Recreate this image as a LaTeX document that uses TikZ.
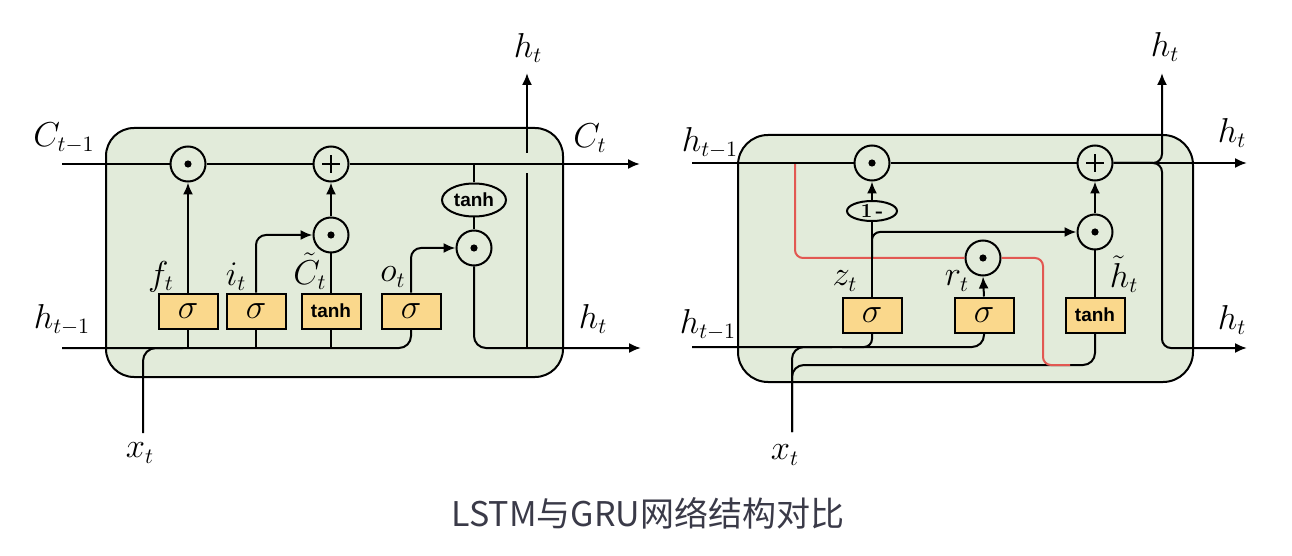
\documentclass[tikz,border=0pt]{standalone}
\usepackage{amsmath}
\usepackage{fontspec}
\newfontfamily\cjk{Noto Sans CJK SC}
\newfontfamily\gatefont{Liberation Sans}
\usetikzlibrary{calc}
\usetikzlibrary{arrows.meta}
\usetikzlibrary{shapes.geometric}
\definecolor{cellgreen}{RGB}{226,235,218}
\definecolor{gateorange}{RGB}{250,216,140}
\definecolor{pathred}{RGB}{226,88,82}
\definecolor{titlegray}{RGB}{58,58,72}

\begin{document}
\begin{tikzpicture}[x=0.5pt,y=-0.5pt,line width=1pt,
  op/.style={circle,draw,fill=cellgreen,minimum size=17.5pt,inner sep=0pt},
  mulop/.style={op,path picture={\fill[black] (path picture bounding box.center) circle (1.8pt);}},
  addop/.style={op,path picture={\draw ($(path picture bounding box.center)+(-4.5pt,0)$) -- ++(9pt,0)
      ($(path picture bounding box.center)+(0,-4.5pt)$) -- ++(0,9pt);}},
  gate/.style={draw,fill=gateorange,minimum width=29.5pt,minimum height=17.5pt,inner sep=0pt,
      font=\fontsize{19}{19}\selectfont},
  tanhtext/.style={font=\gatefont\bfseries\fontsize{9.5}{9.5}\selectfont},
  act/.style={ellipse,draw,fill=cellgreen,inner sep=0pt},
  lab/.style={inner sep=0pt,font=\fontsize{16}{16}\selectfont},
  ar/.style={-{Latex[length=6pt,width=5pt]}}]
\useasboundingbox (0,0) rectangle (1292,556);

% LSTM
\draw[fill=cellgreen,rounded corners=14pt] (106,128) rectangle (563,377);
\coordinate (cin) at (62,164);
\coordinate (cout) at (640,164);
\coordinate (hin) at (62,348);
\coordinate (hout) at (641,348);
\coordinate (xt) at (143,433);
\coordinate (hup) at (527,73);
\node[mulop] (fm) at (188,164) {};
\node[addop] (ca) at (331,164) {};
\node[mulop] (im) at (331,235) {};
\node[mulop] (om) at (474,248) {};
\node[act,tanhtext,minimum width=32pt,minimum height=16.5pt] (th) at (474,200) {tanh};
\node[gate] (sf) at (188,311) {$\sigma$};
\node[gate] (si) at (256,311) {$\sigma$};
\node[gate,tanhtext] (st) at (331,311) {tanh};
\node[gate] (so) at (411,311) {$\sigma$};
\node[lab] (lc1) at (64,138) {$C_{t-1}$};
\node[lab] (lc2) at (590,138) {$C_t$};
\node[lab] (lh1) at (62,320) {$h_{t-1}$};
\node[lab] (lh2) at (593,319) {$h_t$};
\node[lab] (lh3) at (528,48) {$h_t$};
\node[lab] (lx) at (140,453) {$x_t$};
\node[lab] (lf) at (161,277) {$f_t$};
\node[lab] (li) at (236,277) {$i_t$};
\node[lab] (lct) at (310,271) {$\tilde{C}_t$};
\node[lab] (lo) at (393,277) {$o_t$};

\draw (cin) -- (fm.west);
\draw (fm.east) -- (ca.west);
\draw[ar] (ca.east) -- (cout);
\draw (th.north |- cin) -- (th.north);
\draw (th.south) -- (om.north);
\draw[rounded corners=6pt] (hin) -- (so.south |- hin) -- (so.south);
\draw (sf.south) -- (sf.south |- hin);
\draw (si.south) -- (si.south |- hin);
\draw (st.south) -- (st.south |- hin);
\draw[rounded corners=6.5pt] (xt) -- (xt |- hin) -- ($(xt |- hin)+(20pt,0)$);
\draw[ar] (sf.north) -- (fm.south);
\draw[ar,rounded corners=5pt] (si.north) -- (si.north |- im) -- (im.west);
\draw (st.north) -- (im.south);
\draw[ar] (im.north) -- (ca.south);
\draw[ar,rounded corners=5pt] (so.north) -- (so.north |- om) -- (om.west);
\draw[ar,rounded corners=6pt] (om.south) -- (om.south |- hin) -- (hout);
\draw (hup |- hin) -- ($(hup |- cin)+(0,9)$);
\draw[ar] ($(hup |- cin)+(0,-11)$) -- (hup);

% GRU
\draw[fill=cellgreen,rounded corners=15pt] (738,135) rectangle (1193,382);
\coordinate (gin) at (692,163);
\coordinate (gout) at (1247,163);
\coordinate (gbin) at (692,347);
\coordinate (gbout) at (1247,348);
\coordinate (gxt) at (792,432);
\coordinate (gtl) at (792,365);
\coordinate (gup) at (1162,73);
\coordinate (gred) at (795,163);
\coordinate (rk) at (1043,258);
\coordinate (rend) at (1070,365);
\node[mulop] (zm) at (872,163) {};
\node[addop] (ga) at (1095,163) {};
\node[act,minimum width=25pt,minimum height=10pt,font=\fontsize{10}{10}\selectfont] (one) at (872,211) {\textbf{1\,-}};
\node[mulop] (cm) at (1095,232) {};
\node[mulop] (rm) at (983,258) {};
\node[gate] (sz) at (872,315) {$\sigma$};
\node[gate] (sr) at (984,315) {$\sigma$};
\node[gate,tanhtext] (sh) at (1095,315) {tanh};
\node[lab] (gh1) at (710,143) {$h_{t-1}$};
\node[lab] (gh2) at (708,325) {$h_{t-1}$};
\node[lab] (gh3) at (1232,133) {$h_t$};
\node[lab] (gh4) at (1232,320) {$h_t$};
\node[lab] (gh5) at (1165,47) {$h_t$};
\node[lab] (gx) at (785,455) {$x_t$};
\node[lab] (lz) at (845,281) {$z_t$};
\node[lab] (lr) at (957,281) {$r_t$};
\node[lab] (lht) at (1124,274) {$\tilde{h}_t$};

\draw[rounded corners=6pt] (gxt) -- (gxt |- gtl) -- (sh.south |- gtl) -- (sh.south);
\draw[pathred,rounded corners=4pt] (gred) -- (gred |- rm) -- (rm.west);
\draw[pathred,rounded corners=4pt] (rm.east) -- (rk) -- (rk |- gtl) -- (rend);
\draw (gin) -- (zm.west);
\draw (zm.east) -- (ga.west);
\draw[ar] (ga.east) -- (gout);
\draw[ar,rounded corners=4.5pt] (ga.east) -- (gup |- gin) -- (gup);
\draw[ar,rounded corners=4.5pt] (ga.east) -- (gup |- gin) -- (gup |- gbout) -- (gbout);
\draw[rounded corners=6pt] (gbin) -- (sr.south |- gbin) -- (sr.south);
\draw[rounded corners=4pt] (sz.south) -- (sz.south |- gbin) -- ($(sz.south |- gbin)+(-15pt,0)$);
\draw[rounded corners=6pt] (gxt) -- (gxt |- gbin) -- ($(gxt |- gbin)+(20pt,0)$);
\draw (sz.north) -- (one.south);
\draw[ar] (one.north) -- (zm.south);
\draw[ar,rounded corners=4pt] (sz.north |- rm) -- (sz.north |- cm) -- (cm.west);
\draw[ar] (sr.north) -- (rm.south);
\draw (sh.north) -- (cm.south);
\draw[ar] (cm.north) -- (ga.south);

\node[font=\cjk\fontsize{17}{17}\selectfont,text=titlegray] (title) at (648,513) {LSTM与GRU网络结构对比};
\end{tikzpicture}
\end{document}
